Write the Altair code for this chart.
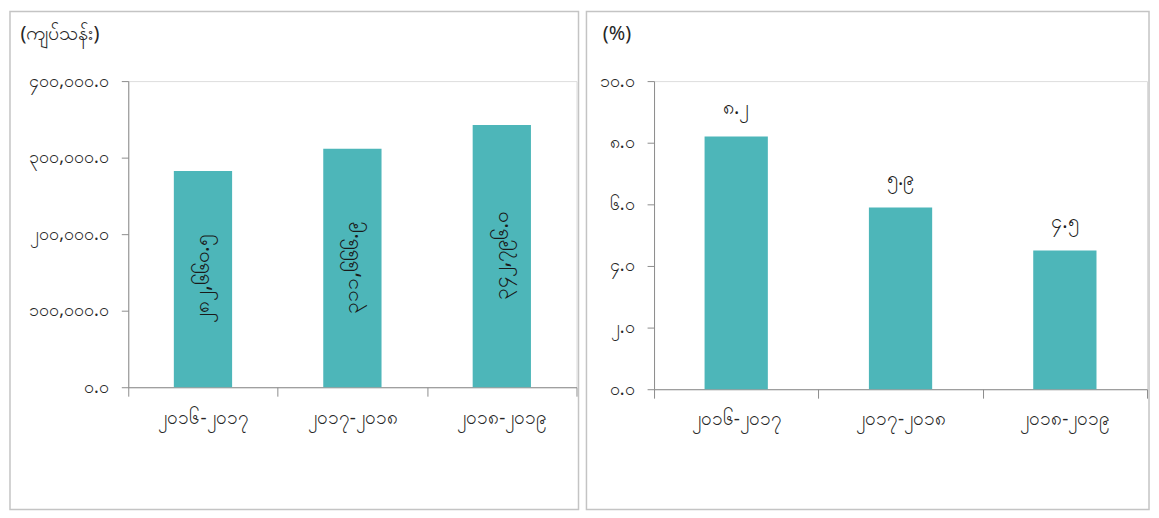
import altair as alt
import pandas as pd

# ---- data ----
categories = ['၂၀၁၆-၂၀၁၇', '၂၀၁၇-၂၀၁၈', '၂၀၁၈-၂၀၁၉']
amount_values = [282660.5, 311666.9, 342796.0]
amount_labels = ['၂၈၂,၆၆၀.၅', '၃၁၁,၆၆၆.၉', '၃၄၂,၇၉၆.၀']
pct_values = [8.2, 5.9, 4.5]
pct_labels = ['၈.၂', '၅.၉', '၄.၅']

left_ticks = [0, 100000, 200000, 300000, 400000]
left_tick_labels = ['၀.၀', '၁၀၀,၀၀၀.၀', '၂၀၀,၀၀၀.၀', '၃၀၀,၀၀၀.၀', '၄၀၀,၀၀၀.၀']
right_ticks = [0, 2, 4, 6, 8, 10]
right_tick_labels = ['၀.၀', '၂.၀', '၄.၀', '၆.၀', '၈.၀', '၁၀.၀']

left_title = '(ကျပ်သန်း)'
right_title = '(%)'

BAR = '#4db6b9'
AXIS = '#8c8c8c'
TXT = '#262626'
FRAME = '#c4c4c4'
FONT = 'Noto Sans'


def label_expr(ticks, labels):
    expr = "''"
    for t, l in zip(reversed(ticks), reversed(labels)):
        expr = f"datum.value == {t} ? '{l}' : ({expr})"
    return expr


df_left = pd.DataFrame({'cat': categories, 'value': amount_values, 'label': amount_labels})
df_right = pd.DataFrame({'cat': categories, 'value': pct_values, 'label': pct_labels})

x_axis = alt.Axis(title=None, labelAngle=0, labelFontSize=19, labelColor=TXT, labelPadding=12,
                  tickBand='extent', tickSize=9, tickColor=AXIS, domainColor=AXIS, labelFont=FONT)

# ---- left panel ----
LW, LH = 451, 308
xl = alt.X('cat:N', sort=categories, axis=x_axis,
           scale=alt.Scale(paddingInner=0, paddingOuter=0))
yl = alt.Y('value:Q', scale=alt.Scale(domain=[0, 400000], nice=False),
           axis=alt.Axis(values=left_ticks, labelExpr=label_expr(left_ticks, left_tick_labels),
                         grid=False, tickSize=7, tickColor=AXIS, domainColor=AXIS,
                         labelFontSize=18, labelColor=TXT, labelPadding=13, labelFont=FONT,
                         title=left_title, titleAngle=0, titleAlign='left', titleBaseline='middle',
                         titleX=-109, titleY=-48, titleFontSize=20, titleFontWeight='normal',
                         titleColor=TXT, titleFont=FONT))

left_bars = alt.Chart(df_left).mark_bar(color=BAR, width=alt.RelativeBandSize(0.39)).encode(x=xl, y=yl)
left_text = alt.Chart(df_left).transform_calculate(mid='datum.value / 2').mark_text(
    angle=270, fontSize=21, color='#1a1a1a', font=FONT, align='center', baseline='middle'
).encode(x=alt.X('cat:N', sort=categories), y=alt.Y('mid:Q'), text='label:N')
left_frame = alt.Chart(alt.Data(values=[{}])).mark_rect(
    fill=None, stroke=FRAME, strokeWidth=1.5
).encode(x=alt.value(-119), x2=alt.value(LW + 2), y=alt.value(-70), y2=alt.value(LH + 123))

left = alt.layer(left_frame, left_bars, left_text).properties(width=LW, height=LH)

# ---- right panel ----
RW, RH = 496, 310
xr = alt.X('cat:N', sort=categories, axis=x_axis,
           scale=alt.Scale(paddingInner=0, paddingOuter=0))
yr = alt.Y('value:Q', scale=alt.Scale(domain=[0, 10], nice=False),
           axis=alt.Axis(values=right_ticks, labelExpr=label_expr(right_ticks, right_tick_labels),
                         grid=False, tickSize=7, tickColor=AXIS, domainColor=AXIS,
                         labelFontSize=18, labelColor=TXT, labelPadding=13, labelFont=FONT,
                         title=right_title, titleAngle=0, titleAlign='left', titleBaseline='middle',
                         titleX=-52, titleY=-48, titleFontSize=20, titleFontWeight='normal',
                         titleColor=TXT, titleFont=FONT))

right_bars = alt.Chart(df_right).mark_bar(color=BAR, width=alt.RelativeBandSize(0.385)).encode(x=xr, y=yr)
right_text = alt.Chart(df_right).mark_text(
    fontSize=20, color='#1a1a1a', font=FONT, align='center', baseline='middle', dy=-29
).encode(x=alt.X('cat:N', sort=categories), y=alt.Y('value:Q'), text='label:N')
right_frame = alt.Chart(alt.Data(values=[{}])).mark_rect(
    fill=None, stroke=FRAME, strokeWidth=1.5
).encode(x=alt.value(-68), x2=alt.value(RW + 2), y=alt.value(-70), y2=alt.value(RH + 121))

right = alt.layer(right_frame, right_bars, right_text).properties(width=RW, height=RH)

chart = alt.hconcat(left, right, spacing=4).properties(padding=0).configure_view(stroke=None).configure(
    background='white')

chart.save("out.html", embed_options={"renderer": "svg", "actions": False})
